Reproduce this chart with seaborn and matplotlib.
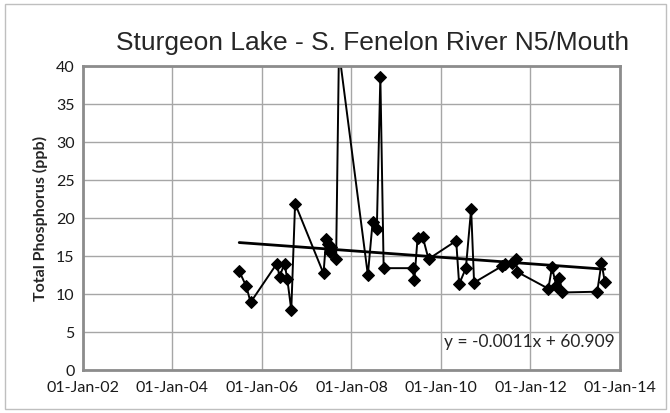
import matplotlib
matplotlib.use("Agg")
import matplotlib.pyplot as plt
import matplotlib.dates as mdates
import seaborn as sns
import pandas as pd
import numpy as np

# sample dates and total phosphorus (ppb)
dates = [
    "2005-06-29", "2005-08-26", "2005-09-30",
    "2006-05-02", "2006-05-24", "2006-07-04", "2006-07-26", "2006-08-28", "2006-09-28",
    "2007-05-18", "2007-06-09", "2007-06-27", "2007-07-10", "2007-07-22", "2007-08-29", "2007-09-21",
    "2008-05-14", "2008-06-22", "2008-07-26", "2008-08-24", "2008-09-20",
    "2009-05-16", "2009-05-28", "2009-06-24", "2009-08-05", "2009-09-21",
    "2010-05-05", "2010-05-29", "2010-07-23", "2010-09-04", "2010-09-28",
    "2011-05-17", "2011-06-08", "2011-08-06", "2011-09-03", "2011-09-16",
    "2012-05-26", "2012-06-25", "2012-07-31", "2012-08-25", "2012-09-17",
    "2013-06-29", "2013-08-03", "2013-08-30",
]
tp = [
    13.0, 11.0, 8.9,
    14.0, 12.3, 14.0, 12.0, 7.9, 21.9,
    12.7, 17.3, 16.6, 15.5, 16.2, 14.6, 42.0,
    12.5, 19.5, 18.5, 38.6, 13.4,
    13.4, 11.8, 17.4, 17.5, 14.6,
    17.0, 11.3, 13.4, 21.2, 11.5,
    13.7, 13.9, 14.1, 14.6, 12.9,
    10.7, 13.5, 11.0, 12.1, 10.2,
    10.3, 14.1, 11.6,
]
tick_years = ["2002", "2004", "2006", "2008", "2010", "2012", "2014"]
title = "Sturgeon Lake - S. Fenelon River N5/Mouth"
equation = "y = -0.0011x + 60.909"

df = pd.DataFrame({"date": pd.to_datetime(dates), "tp": tp})

sns.set_theme(style="white")
plt.rcParams["font.family"] = ["Lato", "DejaVu Sans"]

fig = plt.figure(figsize=(6.7, 4.13), dpi=100)
ax = fig.add_axes([83 / 670, 43 / 413, 537 / 670, 304 / 413])

sns.lineplot(data=df, x="date", y="tp", ax=ax, color="black", linewidth=1.4,
             marker="D", markersize=6.5, markeredgecolor="black", sort=False)

# linear trend (least squares on day numbers)
xnum = mdates.date2num(df["date"])
slope, intercept = np.polyfit(xnum, df["tp"], 1)
trend = pd.DataFrame({"date": df["date"].iloc[[0, -1]],
                      "fit": slope * xnum[[0, -1]] + intercept})
sns.lineplot(data=trend, x="date", y="fit", ax=ax, color="black", linewidth=2)

ticks = pd.to_datetime([y + "-01-01" for y in tick_years])
ax.set_xlim(ticks[0], ticks[-1])
ax.set_xticks(ticks)
ax.xaxis.set_major_formatter(mdates.DateFormatter("%d-%b-%y"))
ax.set_ylim(0, 40)
ax.set_yticks(range(0, 41, 5))
ax.grid(True, color="#a6a6a6", linewidth=1)
ax.tick_params(axis="both", length=0, labelsize=11.5, colors="#1a1a1a")
ax.tick_params(axis="x", pad=8)
ax.tick_params(axis="y", pad=6)
for s in ax.spines.values():
    s.set_color("#8c8c8c")
    s.set_linewidth(2)

ax.set_xlabel("")
ax.set_ylabel("Total Phosphorus (ppb)", fontsize=11.5, fontweight="bold", labelpad=6)
ax.text(0.673, 0.075, equation, transform=ax.transAxes, fontsize=12.5)

fig.text(0.556, 0.897, title, ha="center", va="center", fontsize=19,
         family=["Liberation Sans", "DejaVu Sans"])

# light chart-area border
fig.patches.append(plt.Rectangle((5 / 670, 4 / 413), 661 / 670, 405 / 413,
                                 transform=fig.transFigure, fill=False,
                                 edgecolor="#bfbfbf", linewidth=1))

fig.savefig("out.png", dpi=100)
